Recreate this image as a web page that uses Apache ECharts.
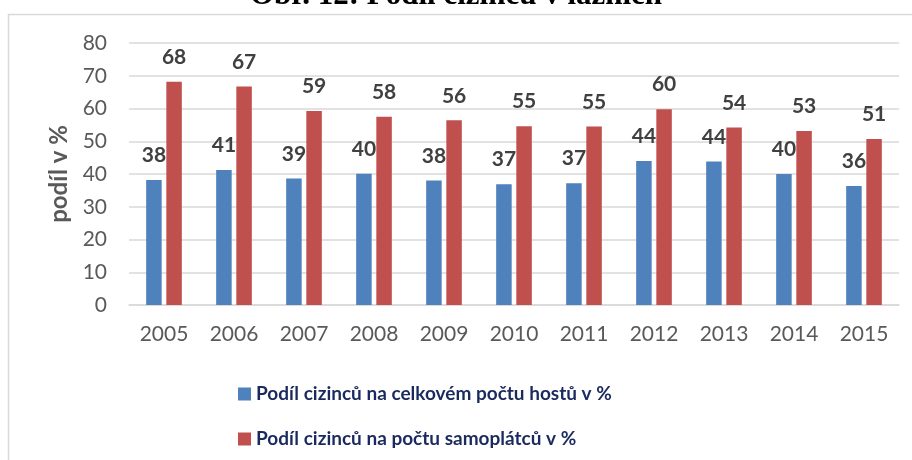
<!DOCTYPE html>
<html>
<head>
<meta charset="utf-8">
<script src="https://cdn.jsdelivr.net/npm/echarts@6/dist/echarts.min.js"></script>
<style>
    html, body { margin: 0; padding: 0; background: #fff; }
    #chart { width: 912px; height: 460px; }
</style>
</head>
<body>
<div id="chart"></div>
<script>
let years = ['2005', '2006', '2007', '2008', '2009', '2010', '2011', '2012', '2013', '2014', '2015'];
let hoste = [38.2, 41.2, 38.6, 40.1, 38.0, 36.9, 37.2, 44.0, 43.8, 40.0, 36.3];
let samoplatci = [68.2, 66.7, 59.2, 57.5, 56.4, 54.6, 54.5, 59.8, 54.2, 53.1, 50.7];
let seriesNames = ['Podíl cizinců na celkovém počtu hostů v %', 'Podíl cizinců na počtu samoplátců v %'];

window.onload = function() {
    drawChart();
}

function drawChart() {
    var dom = document.getElementById('chart');
    var myChart = echarts.init(dom);
    let font = 'Lato';

    let label = {
        show: true,
        position: 'top',
        distance: 14,
        fontFamily: font,
        fontSize: 21,
        fontWeight: 'bold',
        color: '#404040',
        formatter: p => Math.round(p.value)
    };

    let option = {
        animation: false,
        title: {
            text: 'Obr. 12: Podíl cizinců v lázních',
            left: 'center',
            top: -25,
            textStyle: {
                fontFamily: 'Liberation Serif',
                fontWeight: 'bold',
                fontSize: 31,
                color: '#000'
            }
        },
        graphic: [{
            type: 'rect',
            shape: { x: 8.5, y: 14.5, width: 1000, height: 500 },
            style: { fill: 'none', stroke: '#d9d9d9', lineWidth: 1.5 },
            silent: true
        }],
        legend: {
            orient: 'vertical',
            left: 233,
            top: 379,
            itemWidth: 13,
            itemHeight: 13,
            itemGap: 25,
            icon: 'rect',
            textStyle: {
                fontFamily: font,
                fontSize: 19,
                fontWeight: 'bold',
                color: '#1a2a5e',
                lineHeight: 20
            },
            data: seriesNames
        },
        grid: {
            left: 129,
            right: 13,
            top: 43,
            bottom: 155
        },
        xAxis: {
            type: 'category',
            data: years,
            axisTick: { show: false },
            axisLine: { lineStyle: { color: '#d9d9d9', width: 1.5 } },
            axisLabel: {
                margin: 19,
                fontFamily: font,
                fontSize: 21,
                color: '#595959'
            }
        },
        yAxis: {
            type: 'value',
            min: 0,
            max: 80,
            interval: 10,
            name: 'podíl v %',
            nameLocation: 'middle',
            nameGap: 54,
            nameTextStyle: {
                fontFamily: font,
                fontSize: 24,
                fontWeight: 'bold',
                color: '#595959'
            },
            axisLabel: {
                margin: 22,
                fontFamily: font,
                fontSize: 21,
                color: '#595959'
            },
            splitLine: { lineStyle: { color: '#d9d9d9', width: 1.5 } }
        },
        series: [
            {
                name: seriesNames[0],
                type: 'bar',
                data: hoste,
                barWidth: 15.5,
                barGap: '30%',
                itemStyle: { color: '#4f81bd' },
                label: label
            },
            {
                name: seriesNames[1],
                type: 'bar',
                data: samoplatci,
                barWidth: 15.5,
                barGap: '30%',
                itemStyle: { color: '#c0504d' },
                label: label
            }
        ]
    };
    myChart.setOption(option, true);
}
</script>
</body>
</html>
